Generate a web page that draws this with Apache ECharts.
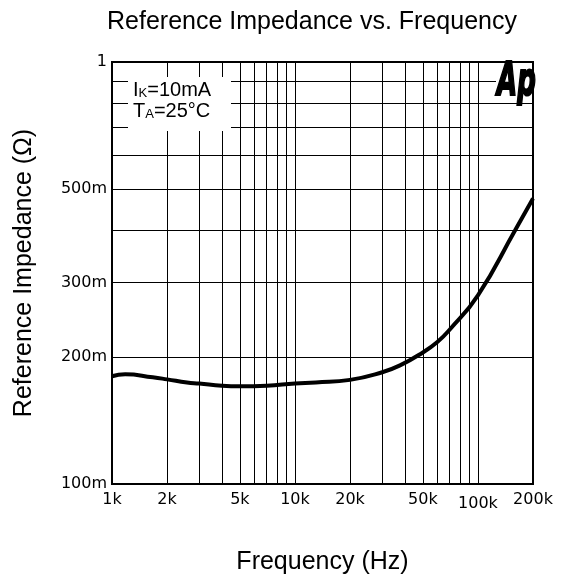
<!DOCTYPE html>
<html>
<head>
<meta charset="utf-8">
<script src="https://cdn.jsdelivr.net/npm/echarts@6/dist/echarts.min.js"></script>
<style>
  html, body { margin: 0; padding: 0; background: #fff; }
  #chart { width: 561px; height: 580px; }
</style>
</head>
<body>
<div id="chart"></div>
<script>
// curve: frequency (Hz) vs impedance (ohm)
const freqs = [1000, 1180, 1670, 2000, 2570, 3000, 4000, 5000, 7000, 10000, 13000, 20000, 30000, 37500, 50000, 60000, 70000, 100000, 160000, 200000];
const impedance = [0.180, 0.182, 0.179, 0.177, 0.174, 0.173, 0.171, 0.1705, 0.171, 0.173, 0.174, 0.1765, 0.184, 0.191, 0.205, 0.217, 0.232, 0.280, 0.400, 0.475];

const xGrid = [1000, 2000, 3000, 4000, 5000, 6000, 7000, 8000, 9000, 10000, 20000, 30000, 40000, 50000, 60000, 70000, 80000, 90000, 100000, 200000];
const xLabels = [1000, 2000, 5000, 10000, 20000, 50000, 100000, 200000];
const yGrid = [0.1, 0.2, 0.3, 0.4, 0.5, 0.6, 0.7, 0.8, 0.9, 1];
const yLabels = [0.1, 0.2, 0.3, 0.5, 1];

const chart = echarts.init(document.getElementById("chart"));

const sansFont = "Liberation Sans, Arial, sans-serif";

const option = {
  backgroundColor: "#fff",
  animation: false,
  title: {
    text: "Reference Impedance vs. Frequency",
    left: 107,
    top: 10,
    padding: 0,
    textStyle: { fontFamily: sansFont, fontSize: 25, fontWeight: "normal", color: "#000" },
  },
  grid: {
    left: 112,
    right: 28,
    top: 62,
    bottom: 96,
    show: true,
    borderColor: "#000",
    borderWidth: 2,
  },
  xAxis: {
    type: "log",
    min: 1000,
    max: 200000,
    name: "Frequency (Hz)",
    nameLocation: "middle",
    nameGap: 66,
    nameTextStyle: { fontFamily: sansFont, fontSize: 25, color: "#000" },
    axisLine: { show: true, lineStyle: { color: "#000", width: 2 } },
    axisTick: { show: false, customValues: xGrid },
    splitLine: { show: true, lineStyle: { color: "#000", width: 1 } },
    axisLabel: {
      customValues: xLabels,
      margin: 8,
      fontFamily: "DejaVu Sans",
      fontSize: 16,
      color: "#000",
      formatter: (v) => {
        const s = Math.round(v / 1000) + "k";
        return Math.round(v) === 100000 ? "{low|" + s + "}" : s;
      },
      rich: {
        low: { fontFamily: "DejaVu Sans", fontSize: 16, color: "#000", padding: [4, 0, 0, 0] },
      },
    },
  },
  yAxis: {
    type: "log",
    min: 0.1,
    max: 1,
    name: "Reference Impedance (Ω)",
    nameLocation: "middle",
    nameGap: 75,
    nameTextStyle: { fontFamily: sansFont, fontSize: 25, color: "#000" },
    axisLine: { show: true, lineStyle: { color: "#000", width: 2 } },
    axisTick: { show: false, customValues: yGrid },
    splitLine: { show: true, lineStyle: { color: "#000", width: 1 } },
    axisLabel: {
      customValues: yLabels,
      margin: 5,
      fontFamily: "DejaVu Sans",
      fontSize: 16,
      color: "#000",
      formatter: (v) => (v >= 0.999 ? "1" : Math.round(v * 1000) + "m"),
    },
  },
  series: [
    {
      type: "line",
      data: freqs.map((f, i) => [f, impedance[i]]),
      smooth: true,
      showSymbol: false,
      lineStyle: { color: "#000", width: 4 },
      z: 5,
    },
  ],
  graphic: [
    {
      type: "rect",
      z: 10,
      shape: { x: 128, y: 77, width: 103, height: 54 },
      style: { fill: "#fff" },
    },
    {
      type: "text",
      z: 11,
      style: {
        x: 133,
        y: 79,
        text: "{n|I}{s|K}{n|=10mA}\n{n|T}{s|A}{n|=25°C}",
        rich: {
          n: { fontFamily: sansFont, fontSize: 20, color: "#000", lineHeight: 21, verticalAlign: "bottom" },
          s: { fontFamily: sansFont, fontSize: 13, color: "#000", lineHeight: 19, verticalAlign: "bottom" },
        },
      },
    },
    {
      type: "rect",
      z: 10,
      shape: { x: 496, y: 66, width: 36, height: 30 },
      style: { fill: "#fff" },
    },
    {
      type: "text",
      z: 11,
      x: 497,
      y: 61,
      scaleX: 0.62,
      scaleY: 1.08,
      style: {
        text: "Ap",
        font: "italic bold 42px 'DejaVu Sans', sans-serif",
        fill: "#000",
        stroke: "#000",
        lineWidth: 2,
      },
    },
  ],
};

chart.setOption(option);
</script>
</body>
</html>
